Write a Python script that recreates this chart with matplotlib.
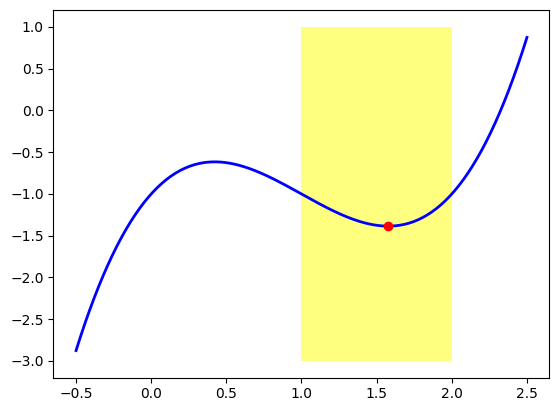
import numpy as np
import matplotlib

matplotlib.use("Agg")
import matplotlib.pyplot as plt

# cubic: passes (1,-1), (2,-1), (-0.5,-2.875), (2.5,0.875)
coeffs = [1.0, -3.0, 2.0, -1.0]
x_range = [-0.5, 2.5]
span_x = [1.0, 2.0]
span_y = [-3.0, 1.0]
min_x = 1.0 + 1.0 / np.sqrt(3.0)

xs = np.linspace(x_range[0], x_range[1], 300)
ys = np.polyval(coeffs, xs)

fig = plt.figure(figsize=(5.59, 4.13), dpi=100)
ax = fig.add_axes([0.0957, 0.0855, 0.8873, 0.8896])
ax.fill_between(span_x, span_y[0], span_y[1], color="yellow", alpha=0.5, linewidth=0)
ax.plot(xs, ys, color="blue", linewidth=2)
ax.plot([min_x], [np.polyval(coeffs, min_x)], "ro")

fig.savefig("out.png")
